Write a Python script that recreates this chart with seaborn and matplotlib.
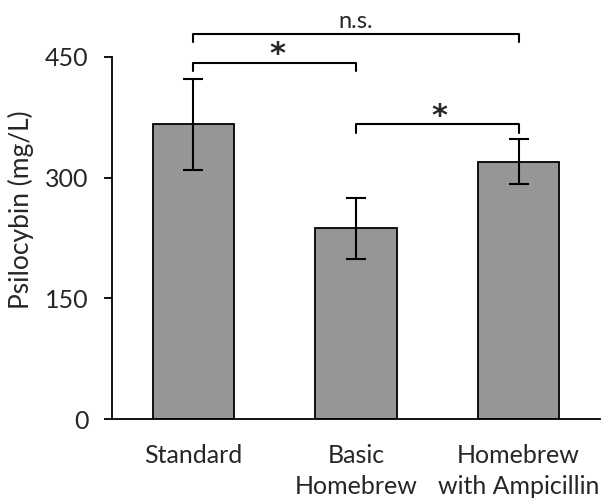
import matplotlib
matplotlib.use("Agg")
import matplotlib.pyplot as plt
import seaborn as sns
import pandas as pd

categories = ["Standard", "Basic\nHomebrew", "Homebrew\nwith Ampicillin"]
means = [366, 237, 320]
errors = [57, 38, 28]
y_ticks = [0, 150, 300, 450]
brackets = [(0, 2, 479, "n.s."), (0, 1, 443, "*"), (1, 2, 366, "*")]

sns.set_theme(style="white")
plt.rcParams['font.family'] = ['Lato', 'DejaVu Sans']

fig = plt.figure(figsize=(6.01, 4.98), dpi=100)
ax = fig.add_axes([112/601, 1-419/498, 488/601, 419/498])

df = pd.DataFrame({"cat": categories, "val": means})
sns.barplot(data=df, x="cat", y="val", color="#969696", saturation=1,
            edgecolor="black", linewidth=1.3, width=0.5, ax=ax)
ax.errorbar(range(len(categories)), means, yerr=errors, fmt="none",
            ecolor="black", elinewidth=1.5, capsize=7, capthick=1.5)

for x1, x2, y, label in brackets:
    ax.plot([x1, x1, x2, x2], [y - 10, y, y, y - 10], color="black", lw=1.5,
            clip_on=False)
    if label == "*":
        ax.text((x1 + x2) / 2 + 0.015, y - 8, label, ha="center", va="bottom",
                fontsize=22, fontweight="bold", family=['DejaVu Sans'])
    else:
        ax.text((x1 + x2) / 2, y + 2, label, ha="center", va="bottom", fontsize=17)

ax.set_xlim(-0.5, 2.5)
ax.set_ylim(0, 520.7)
ax.set_yticks(y_ticks)
ax.set_xlabel("")
ax.set_ylabel("Psilocybin (mg/L)", fontsize=19, labelpad=8)
for s in ["top", "right"]:
    ax.spines[s].set_visible(False)
for s in ["left", "bottom"]:
    ax.spines[s].set_color("black")
    ax.spines[s].set_linewidth(1.3)
ax.spines["left"].set_bounds(0, 450)
ax.tick_params(axis="y", direction="out", length=6, width=1.3, color="black",
               labelsize=18, pad=11, left=True)
ax.tick_params(axis="x", length=0, labelsize=18, pad=18)
for lab in ax.get_xticklabels():
    lab.set_linespacing(1.42)

fig.savefig("out.png", dpi=100)
